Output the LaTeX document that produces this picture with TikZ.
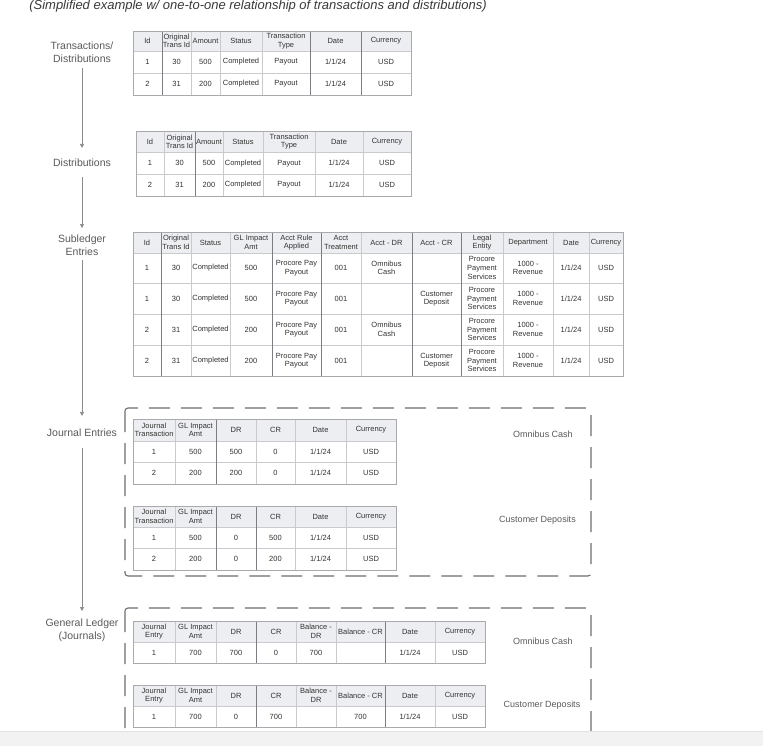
\documentclass[tikz,border=0pt]{standalone}
\usepackage{fontspec}
\setmainfont{Liberation Sans}
\usetikzlibrary{arrows.meta}

\definecolor{hdrfill}{HTML}{EDEEF1}
\definecolor{gridlc}{HTML}{CACACE}
\definecolor{griddc}{HTML}{7C7C82}
\definecolor{gridbc}{HTML}{A9A9AE}
\definecolor{txtc}{HTML}{333333}
\definecolor{labc}{HTML}{5A5A5A}
\definecolor{dashc}{HTML}{6E6E73}
\definecolor{flowc}{HTML}{8A8A8A}
\definecolor{barc}{HTML}{F2F2F2}
\definecolor{baredge}{HTML}{E2E2E2}
\definecolor{titlec}{HTML}{3A3A3A}

\tikzset{
  cell/.style={font=\fontsize{7.5}{8.6}\selectfont, align=center, text=txtc, inner sep=0pt},
  lab/.style={font=\fontsize{10.5}{12.8}\selectfont, align=center, text=labc, inner sep=0pt},
  boxlab/.style={font=\fontsize{9}{11}\selectfont, text=labc, inner sep=0pt},
  titlenode/.style={font=\itshape\fontsize{13}{15}\selectfont, text=titlec, inner sep=0pt},
  gridl/.style={draw=gridlc, line width=0.6pt},
  gridd/.style={draw=griddc, line width=0.7pt},
  gridb/.style={draw=gridbc, line width=0.7pt},
  flow/.style={draw=flowc, line width=0.7pt, -{Triangle[width=4pt,length=4pt]}},
  dbox/.style={draw=dashc, line width=1.1pt, dash pattern=on 21pt off 11pt, rounded corners=3pt},
}

% #1 left, #2 right, #3 top, #4 header bottom, #5 bottom, #6 inner x list, #7 horizontal line list
\newcommand{\tgrid}[7]{%
  \fill[hdrfill] (#1,#3) rectangle (#2,#4);
  \foreach \xx in {#6} \draw[gridl] (\xx,#3) -- (\xx,#5);
  \foreach \yy in {#7} \draw[gridl] (#1,\yy) -- (#2,\yy);
}
% #1 name prefix, #2 column centre array, #3 y, #4 cells
\newcommand{\tabrow}[4]{%
  \foreach \txt [count=\i] in {#4} {%
    \pgfmathsetmacro\cx{#2[\i-1]}%
    \node[cell] (#1c\i) at (\cx,#3) {\txt};
  }%
}

\def\cA{{147.5,176.5,205.5,241,286,335.5,386}}
\def\cB{{150,179.5,209,243,289,339,387}}
\def\cC{{147,176,210.5,251,296.5,341,386.5,436.5,482,528,571,606}}
\def\cJ{{154,195.5,236,275.5,320.5,371}}
\def\cG{{154,195.5,236,276,316,360.5,410,460}}

\begin{document}
\begin{tikzpicture}[x=1pt,y=-1pt]
\useasboundingbox (0,0) rectangle (763,746);
\fill[white] (0,0) rectangle (763,746);

% title
\node[titlenode] (title) at (258,6.5) {(Simplified example w/ one-to-one relationship of transactions and distributions)};

% left labels
\node[lab] (L1) at (82,52) {Transactions/\\Distributions};
\node[lab] (L2) at (82,163) {Distributions};
\node[lab] (L3) at (82,245.5) {Subledger\\Entries};
\node[lab] (L4) at (82,433) {Journal Entries};
\node[lab] (L5) at (82,630.5) {General Ledger\\(Journals)};

\draw[flow, shorten <=6pt, shorten >=11pt] (L1) -- (L2);
\draw[flow, shorten <=10pt, shorten >=7pt] (L2) -- (L3);
\draw[flow, shorten <=4pt, shorten >=13pt] (L3) -- (L4);
\draw[flow, shorten <=11pt, shorten >=8pt] (L4) -- (L5);

% ---------- Table 1 ----------
\tgrid{133}{411}{31}{51}{95}{162,191,220,262,310,361}{51,73}
\foreach \xx in {162,310,361} \draw[gridd] (\xx,31) -- (\xx,95);
\draw[gridb] (133,31) rectangle (411,95);
\tabrow{t1h}{\cA}{41}{Id,{Original\\Trans Id},Amount,Status,{Transaction\\Type},Date,Currency}
\tabrow{t1a}{\cA}{62}{1,30,500,Completed,Payout,1/1/24,USD}
\tabrow{t1b}{\cA}{84}{2,31,200,Completed,Payout,1/1/24,USD}

% ---------- Table 2 ----------
\tgrid{136}{411}{131}{152.5}{196}{164,195,223,263,315,363}{152.5,174}
\foreach \xx in {195} \draw[gridd] (\xx,131) -- (\xx,196);
\draw[gridb] (136,131) rectangle (411,196);
\tabrow{t2h}{\cB}{141.75}{Id,{Original\\Trans Id},Amount,Status,{Transaction\\Type},Date,Currency}
\tabrow{t2a}{\cB}{163.25}{1,30,500,Completed,Payout,1/1/24,USD}
\tabrow{t2b}{\cB}{185}{2,31,200,Completed,Payout,1/1/24,USD}

% ---------- Table 3 (subledger) ----------
\tgrid{133}{623}{232}{253}{376}{161,191,230,272,321,361,412,461,503,553,589}{253,283,314,345}
\foreach \xx in {161,272,321,412,461} \draw[gridd] (\xx,232) -- (\xx,376);
\draw[gridb] (133,232) rectangle (623,376);
\tabrow{t3h}{\cC}{242.5}{Id,{Original\\Trans Id},Status,{GL Impact\\Amt},{Acct Rule\\Applied},{Acct\\Treatment},Acct - DR,Acct - CR,{Legal\\Entity},Department,Date,Currency}
\tabrow{t3a}{\cC}{268}{1,30,Completed,500,{Procore Pay\\Payout},001,{Omnibus\\Cash},{},{Procore\\Payment\\Services},{1000 -\\Revenue},1/1/24,USD}
\tabrow{t3b}{\cC}{298.5}{1,30,Completed,500,{Procore Pay\\Payout},001,{},{Customer\\Deposit},{Procore\\Payment\\Services},{1000 -\\Revenue},1/1/24,USD}
\tabrow{t3c}{\cC}{329.5}{2,31,Completed,200,{Procore Pay\\Payout},001,{Omnibus\\Cash},{},{Procore\\Payment\\Services},{1000 -\\Revenue},1/1/24,USD}
\tabrow{t3d}{\cC}{360.5}{2,31,Completed,200,{Procore Pay\\Payout},001,{},{Customer\\Deposit},{Procore\\Payment\\Services},{1000 -\\Revenue},1/1/24,USD}

% ---------- Journal entries box ----------
\draw[dbox] (125,408) rectangle (591,576);
\node[boxlab] (jeOC) at (543,434) {Omnibus Cash};
\node[boxlab] (jeCD) at (537.5,520) {Customer Deposits};

\tgrid{133}{396}{419}{441}{484}{175,216,256,295,346}{441,462}
\foreach \xx in {216} \draw[gridd] (\xx,419) -- (\xx,484);
\draw[gridb] (133,419) rectangle (396,484);
\tabrow{j1h}{\cJ}{430}{{Journal\\Transaction},{GL Impact\\Amt},DR,CR,Date,Currency}
\tabrow{j1a}{\cJ}{451.5}{1,500,500,0,1/1/24,USD}
\tabrow{j1b}{\cJ}{473}{2,200,200,0,1/1/24,USD}

\tgrid{133}{396}{506}{527}{570}{175,216,256,295,346}{527,548}
\foreach \xx in {216,256} \draw[gridd] (\xx,506) -- (\xx,570);
\draw[gridb] (133,506) rectangle (396,570);
\tabrow{j2h}{\cJ}{516.5}{{Journal\\Transaction},{GL Impact\\Amt},DR,CR,Date,Currency}
\tabrow{j2a}{\cJ}{537.5}{1,500,0,500,1/1/24,USD}
\tabrow{j2b}{\cJ}{559}{2,200,0,200,1/1/24,USD}

% ---------- General ledger box ----------
\draw[dbox] (125,608) rectangle (591,760);
\node[boxlab] (glOC) at (543,641) {Omnibus Cash};
\node[boxlab] (glCD) at (542,705) {Customer Deposits};

\tgrid{133}{485}{621}{642}{663}{175,216,256,296,336,385,435}{642}
\foreach \xx in {256,385} \draw[gridd] (\xx,621) -- (\xx,663);
\draw[gridb] (133,621) rectangle (485,663);
\tabrow{g1h}{\cG}{631.5}{{Journal\\Entry},{GL Impact\\Amt},DR,CR,{Balance -\\DR},Balance - CR,Date,Currency}
\tabrow{g1a}{\cG}{652.5}{1,700,700,0,700,{},1/1/24,USD}

\tgrid{133}{485}{685}{706}{727}{175,216,256,296,336,385,435}{706}
\foreach \xx in {256,385} \draw[gridd] (\xx,685) -- (\xx,727);
\draw[gridb] (133,685) rectangle (485,727);
\tabrow{g2h}{\cG}{695.5}{{Journal\\Entry},{GL Impact\\Amt},DR,CR,{Balance -\\DR},Balance - CR,Date,Currency}
\tabrow{g2a}{\cG}{716.5}{1,700,0,700,{},700,1/1/24,USD}

% bottom grey bar
\fill[barc] (0,731) rectangle (763,746);
\draw[baredge, line width=0.6pt] (0,731) -- (763,731);
\end{tikzpicture}
\end{document}
